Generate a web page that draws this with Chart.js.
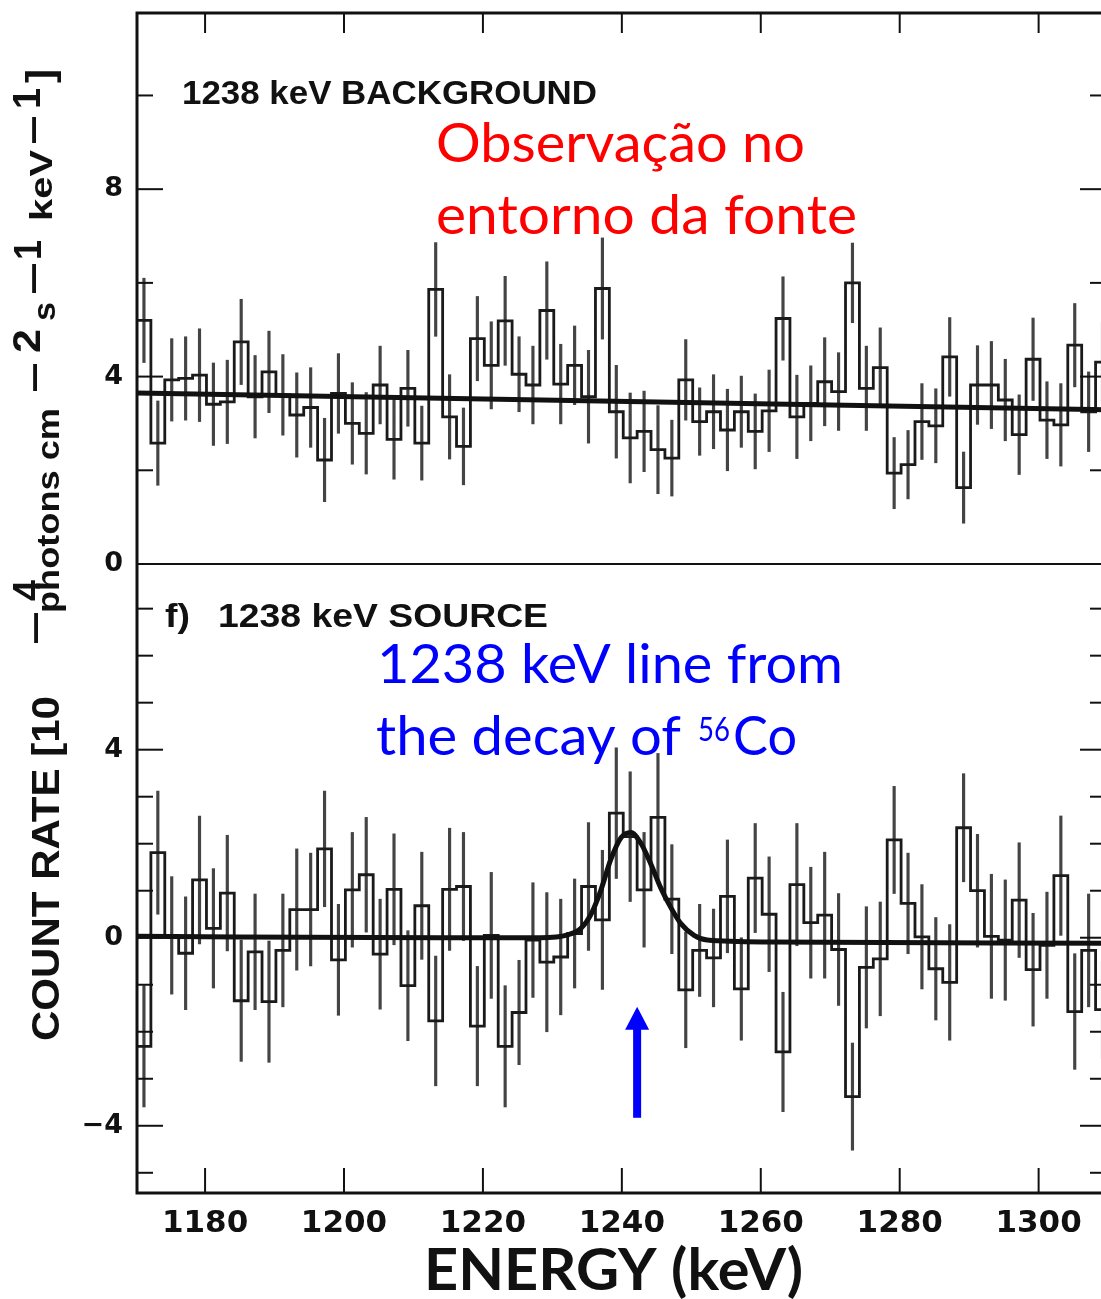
<!DOCTYPE html>
<html>
<head>
<meta charset="utf-8">
<script src="https://cdn.jsdelivr.net/npm/chart.js@4.4.1/dist/chart.umd.min.js"></script>
<style>
  html, body { margin: 0; padding: 0; background: #fff; overflow: hidden; }
  #wrap { width: 1110px; height: 1299px; }
</style>
</head>
<body>
<div id="wrap"><canvas id="spectrum" width="1110" height="1299"></canvas></div>
<script>
// bin centres in keV (2 keV wide bins)
const energies = [
  1171.2, 1173.2, 1175.2, 1177.2, 1179.2, 1181.2, 1183.2, 1185.2, 1187.2, 1189.2,
  1191.2, 1193.2, 1195.2, 1197.2, 1199.2, 1201.2, 1203.2, 1205.2, 1207.2, 1209.2,
  1211.2, 1213.2, 1215.2, 1217.2, 1219.2, 1221.2, 1223.2, 1225.2, 1227.2, 1229.2,
  1231.2, 1233.2, 1235.2, 1237.2, 1239.2, 1241.2, 1243.2, 1245.2, 1247.2, 1249.2,
  1251.2, 1253.2, 1255.2, 1257.2, 1259.2, 1261.2, 1263.2, 1265.2, 1267.2, 1269.2,
  1271.2, 1273.2, 1275.2, 1277.2, 1279.2, 1281.2, 1283.2, 1285.2, 1287.2, 1289.2,
  1291.2, 1293.2, 1295.2, 1297.2, 1299.2, 1301.2, 1303.2, 1305.2, 1307.2, 1309.2
];
const binWidth = 2;

// upper panel: 1238 keV background
const backgroundRate = [
  5.20, 2.58, 3.93, 3.96, 4.03, 3.41, 3.46, 4.74, 3.57, 4.10,
  3.61, 3.18, 3.34, 2.22, 3.64, 3.00, 2.79, 3.82, 2.66, 3.75,
  2.58, 5.86, 3.14, 2.51, 4.81, 4.24, 5.19, 4.05, 3.82, 5.41,
  3.84, 4.24, 3.57, 5.88, 3.25, 2.69, 2.83, 2.44, 2.26, 3.93,
  3.04, 3.25, 2.86, 3.25, 2.83, 3.27, 5.24, 3.14, 3.43, 3.89,
  3.68, 6.00, 3.75, 4.19, 1.94, 2.12, 3.04, 2.95, 4.42, 1.63,
  3.82, 3.82, 3.50, 2.76, 4.37, 3.07, 2.97, 4.67, 3.25, 4.31
];
const backgroundErr = [
  0.90, 0.90, 0.88, 0.89, 0.99, 0.88, 0.89, 0.91, 0.88, 0.87,
  0.86, 0.90, 0.85, 0.89, 0.85, 0.87, 0.87, 0.83, 0.85, 0.81,
  0.79, 1.00, 0.90, 0.82, 0.90, 0.93, 0.95, 0.80, 0.83, 1.04,
  0.85, 0.84, 0.99, 1.08, 0.99, 0.96, 0.86, 0.94, 0.81, 0.86,
  0.72, 0.79, 0.87, 0.76, 0.80, 0.87, 0.89, 0.89, 0.80, 0.94,
  0.83, 0.85, 0.90, 0.85, 0.76, 0.73, 0.81, 0.79, 0.84, 0.76,
  0.84, 0.93, 0.87, 0.85, 0.88, 0.82, 0.88, 0.89, 0.85, 0.85
];
const backgroundFit = [
  { x: 1170.2, y: 3.65 },
  { x: 1309.7, y: 3.29 }
];

// lower panel: f) 1238 keV source
const sourceRate = [
  -2.31, 1.81, 0.05, -0.33, 1.23, 0.20, 0.95, -1.34, -0.30, -1.36,
  -0.27, 0.60, 0.60, 1.89, -0.47, 1.02, 1.34, -0.35, 1.03, -1.02,
  0.68, -1.77, 1.03, 1.09, -1.88, 0.05, -2.31, -1.59, -0.05, -0.52,
  -0.41, 0.09, 1.09, 0.38, 2.65, 2.15, 1.02, 2.56, 0.82, -1.11,
  -0.27, -0.43, 0.88, -1.09, 1.27, 0.50, -2.43, 1.13, 0.32, 0.48,
  -0.25, -3.38, -0.63, -0.45, 2.08, 0.73, 0.02, -0.66, -0.95, 2.34,
  1.00, 0.03, -0.05, 0.80, -0.68, -0.16, 1.32, -1.57, -0.27, -1.53
];
const sourceErr = [
  1.29, 1.31, 1.25, 1.20, 1.36, 1.27, 1.23, 1.29, 1.23, 1.29,
  1.20, 1.29, 1.20, 1.23, 1.18, 1.22, 1.22, 1.17, 1.18, 1.17,
  1.14, 1.38, 1.30, 1.15, 1.27, 1.34, 1.29, 1.11, 1.22, 1.48,
  1.23, 1.16, 1.36, 1.48, 1.39, 1.38, 1.22, 1.36, 1.16, 1.23,
  0.98, 1.04, 1.20, 1.09, 1.16, 1.22, 1.27, 1.30, 1.18, 1.34,
  1.19, 1.14, 1.29, 1.21, 1.14, 1.07, 1.11, 1.09, 1.23, 1.15,
  1.20, 1.32, 1.28, 1.22, 1.20, 1.13, 1.27, 1.23, 1.20, 1.04
];
const sourceFit = [
  { x: 1170.2, y: 0.03 }, { x: 1214.0, y: 0.00 }, { x: 1228.3, y: 0.00 },
  { x: 1232.2, y: 0.06 }, { x: 1234.1, y: 0.20 }, { x: 1235.5, y: 0.48 },
  { x: 1237.0, y: 1.02 }, { x: 1238.4, y: 1.66 }, { x: 1239.9, y: 2.13 },
  { x: 1241.3, y: 2.24 }, { x: 1242.7, y: 2.02 }, { x: 1244.2, y: 1.56 },
  { x: 1245.6, y: 1.06 }, { x: 1247.1, y: 0.63 }, { x: 1248.5, y: 0.30 },
  { x: 1250.4, y: 0.05 }, { x: 1252.3, y: -0.05 }, { x: 1261.5, y: -0.09 },
  { x: 1309.7, y: -0.12 }
];

// tick labels
const xTickStep = 20;
const topTickLabels = [0, 4, 8];
const bottomTickLabels = [-4, 0, 4];

// arrow marking the line (keV, from / to count rate)
const arrowEnergy = 1242.2;
const arrowFrom = -3.83;
const arrowTo = -1.47;

function stepPoints(values) {
  const pts = [];
  values.forEach((v, i) => {
    pts.push({ x: energies[i] - binWidth / 2, y: v });
    pts.push({ x: energies[i] + binWidth / 2, y: v });
  });
  return pts;
}

function errorBars(values, errs) {
  return values.map((v, i) => ({ x: energies[i], y: [v - errs[i], v + errs[i]] }));
}

function fmt(v) {
  return v < 0 ? '\u2212' + Math.abs(v) : String(v);
}

function fitText(ctx, text, left, base, width, font, color) {
  ctx.save();
  ctx.font = font;
  const w = ctx.measureText(text).width;
  ctx.translate(left, base);
  ctx.scale(width / w, 1);
  ctx.fillStyle = color;
  ctx.textAlign = 'left';
  ctx.textBaseline = 'alphabetic';
  ctx.fillText(text, 0, 0);
  ctx.restore();
}

// frame, panel divider and inward ticks
const frameTicks = {
  id: 'frameTicks',
  afterDatasetsDraw(chart) {
    const { ctx, chartArea: a, scales } = chart;
    const { x, yTop, yBot } = scales;
    const line = (x1, y1, x2, y2) => {
      ctx.beginPath(); ctx.moveTo(x1, y1); ctx.lineTo(x2, y2); ctx.stroke();
    };
    ctx.save();
    ctx.strokeStyle = '#111';
    ctx.lineWidth = 3;
    ctx.strokeRect(a.left, a.top, a.right - a.left, a.bottom - a.top);
    ctx.lineWidth = 2;
    line(a.left, yTop.bottom, a.right, yTop.bottom);
    x.ticks.forEach(t => {
      const px = x.getPixelForValue(t.value);
      line(px, a.top, px, a.top + 20);
      line(px, a.bottom, px, a.bottom - 25);
    });
    [yTop, yBot].forEach(s => {
      s.ticks.forEach(t => {
        const py = s.getPixelForValue(t.value);
        const len = t.value % 4 === 0 ? 26 : 16;
        line(a.left, py, a.left + len, py);
        line(a.right, py, a.right - len, py);
      });
    });
    ctx.restore();
  }
};

// panel titles, notes, arrow and the rotated y title
const notes = {
  id: 'notes',
  afterDraw(chart) {
    const { ctx, scales } = chart;
    const head = 'bold 33px "Liberation Sans", Arial, sans-serif';
    fitText(ctx, '1238 keV BACKGROUND', 182, 104, 415, head, '#111');
    fitText(ctx, 'f)', 165, 627, 25, head, '#111');
    fitText(ctx, '1238 keV SOURCE', 218, 627, 330, head, '#111');

    const note = '54px Lato, "Open Sans", sans-serif';
    fitText(ctx, 'Observação no', 436, 162, 369, note, '#ff0000');
    fitText(ctx, 'entorno da fonte', 436, 234, 421, note, '#ff0000');
    fitText(ctx, '1238 keV line from', 377, 683, 466, note, '#0000ff');
    fitText(ctx, 'the decay of', 376, 755, 305, note, '#0000ff');
    fitText(ctx, '56', 698, 741, 32, '32px Lato, sans-serif', '#0000ff');
    fitText(ctx, 'Co', 733, 755, 64, note, '#0000ff');

    fitText(ctx, 'ENERGY (keV)', 424, 1290, 379, 'bold 58px Lato, sans-serif', '#111');

    // arrow
    const ax = scales.x.getPixelForValue(arrowEnergy);
    const yTail = scales.yBot.getPixelForValue(arrowFrom);
    const yTip = scales.yBot.getPixelForValue(arrowTo);
    ctx.save();
    ctx.fillStyle = '#0000ff';
    ctx.fillRect(ax - 4, yTip + 20, 8, yTail - yTip - 20);
    ctx.beginPath();
    ctx.moveTo(ax, yTip);
    ctx.lineTo(ax - 12, yTip + 23);
    ctx.lineTo(ax + 12, yTip + 23);
    ctx.closePath();
    ctx.fill();
    ctx.restore();

    // y title, written bottom to top with raised exponents
    const big = 'bold 38px "Liberation Sans", Arial, sans-serif';
    const small = 'bold 32px "Liberation Sans", Arial, sans-serif';
    const pieces = [
      { t: 'COUNT RATE [10', from: 1041, to: 696, base: 59, f: big },
      { t: '\u2014', from: 643, to: 613, base: 47, f: big },
      { t: '4', from: 601, to: 580, base: 40, f: big },
      { t: 'photons cm', from: 613, to: 408, base: 59, f: small },
      { t: '\u2014', from: 391, to: 364, base: 46, f: big },
      { t: '2', from: 353, to: 329, base: 40, f: big },
      { t: 's', from: 321, to: 302, base: 55, f: small },
      { t: '\u2014', from: 293, to: 264, base: 45, f: big },
      { t: '1', from: 260, to: 240, base: 41, f: big },
      { t: 'keV', from: 221, to: 150, base: 52, f: small },
      { t: '\u2014', from: 143, to: 117, base: 45, f: big },
      { t: '1', from: 109, to: 88, base: 40, f: big },
      { t: ']', from: 83, to: 69, base: 53, f: big }
    ];
    pieces.forEach(p => {
      ctx.save();
      ctx.translate(p.base, p.from);
      ctx.rotate(-Math.PI / 2);
      fitText(ctx, p.t, 0, 0, p.from - p.to, p.f, '#111');
      ctx.restore();
    });
  }
};

const tickFont = { family: '"DejaVu Sans", sans-serif', size: 27, weight: 'bold' };

// keep the plot frame exactly where the layout padding puts it
function fixY(s) { s.width = 137; s.paddingTop = 0; s.paddingBottom = 0; }
function fixX(s) { s.height = 106; s.paddingLeft = 0; s.paddingRight = 0; }

new Chart(document.getElementById('spectrum'), {
  type: 'line',
  data: {
    datasets: [
      {
        label: 'Background fit',
        data: backgroundFit,
        yAxisID: 'yTop',
        borderColor: '#111',
        borderWidth: 5,
        pointRadius: 0,
        order: 0
      },
      {
        label: 'Source fit',
        data: sourceFit,
        yAxisID: 'yBot',
        borderColor: '#111',
        borderWidth: 5,
        pointRadius: 0,
        cubicInterpolationMode: 'monotone',
        order: 0
      },
      {
        label: 'Background',
        data: stepPoints(backgroundRate),
        yAxisID: 'yTop',
        borderColor: '#1a1a1a',
        borderWidth: 2.8,
        pointRadius: 0,
        order: 1
      },
      {
        label: 'Source',
        data: stepPoints(sourceRate),
        yAxisID: 'yBot',
        borderColor: '#1a1a1a',
        borderWidth: 2.8,
        pointRadius: 0,
        order: 1
      },
      {
        type: 'bar',
        label: 'Background error',
        data: errorBars(backgroundRate, backgroundErr),
        yAxisID: 'yTop',
        backgroundColor: '#444',
        barThickness: 2.5,
        grouped: false,
        order: 2
      },
      {
        type: 'bar',
        label: 'Source error',
        data: errorBars(sourceRate, sourceErr),
        yAxisID: 'yBot',
        backgroundColor: '#444',
        barThickness: 2.5,
        grouped: false,
        order: 2
      }
    ]
  },
  options: {
    responsive: false,
    animation: false,
    devicePixelRatio: 1,
    layout: { padding: { top: 13, right: 4, left: 0, bottom: 0 } },
    plugins: {
      legend: { display: false },
      tooltip: { enabled: false }
    },
    scales: {
      x: {
        type: 'linear',
        min: 1170.2,
        max: 1309.7,
        offset: false,
        grid: { display: false, drawTicks: false, offset: false },
        border: { display: false },
        ticks: {
          stepSize: xTickStep,
          includeBounds: false,
          autoSkip: false,
          maxRotation: 0,
          padding: 12,
          color: '#111',
          font: { family: '"DejaVu Sans", sans-serif', size: 31, weight: 'bold' },
          callback: v => String(v)
        },
        afterFit: fixX
      },
      // the stack is laid out bottom-up, so the lower panel comes first
      yBot: {
        type: 'linear',
        position: 'left',
        stack: 'panels',
        stackWeight: 629,
        min: -5.43,
        max: 7.95,
        grid: { display: false, drawTicks: false },
        border: { display: false },
        ticks: {
          stepSize: 1,
          includeBounds: false,
          autoSkip: false,
          padding: 14,
          color: '#111',
          font: tickFont,
          callback: v => bottomTickLabels.includes(v) ? fmt(v) : ''
        },
        afterFit: fixY
      },
      yTop: {
        type: 'linear',
        position: 'left',
        stack: 'panels',
        stackWeight: 551,
        min: 0,
        max: 11.76,
        grid: { display: false, drawTicks: false },
        border: { display: false },
        ticks: {
          stepSize: 2,
          includeBounds: false,
          autoSkip: false,
          padding: 14,
          color: '#111',
          font: tickFont,
          callback: v => topTickLabels.includes(v) ? fmt(v) : ''
        },
        afterFit: fixY
      }
    }
  },
  plugins: [frameTicks, notes]
});
</script>
</body>
</html>
